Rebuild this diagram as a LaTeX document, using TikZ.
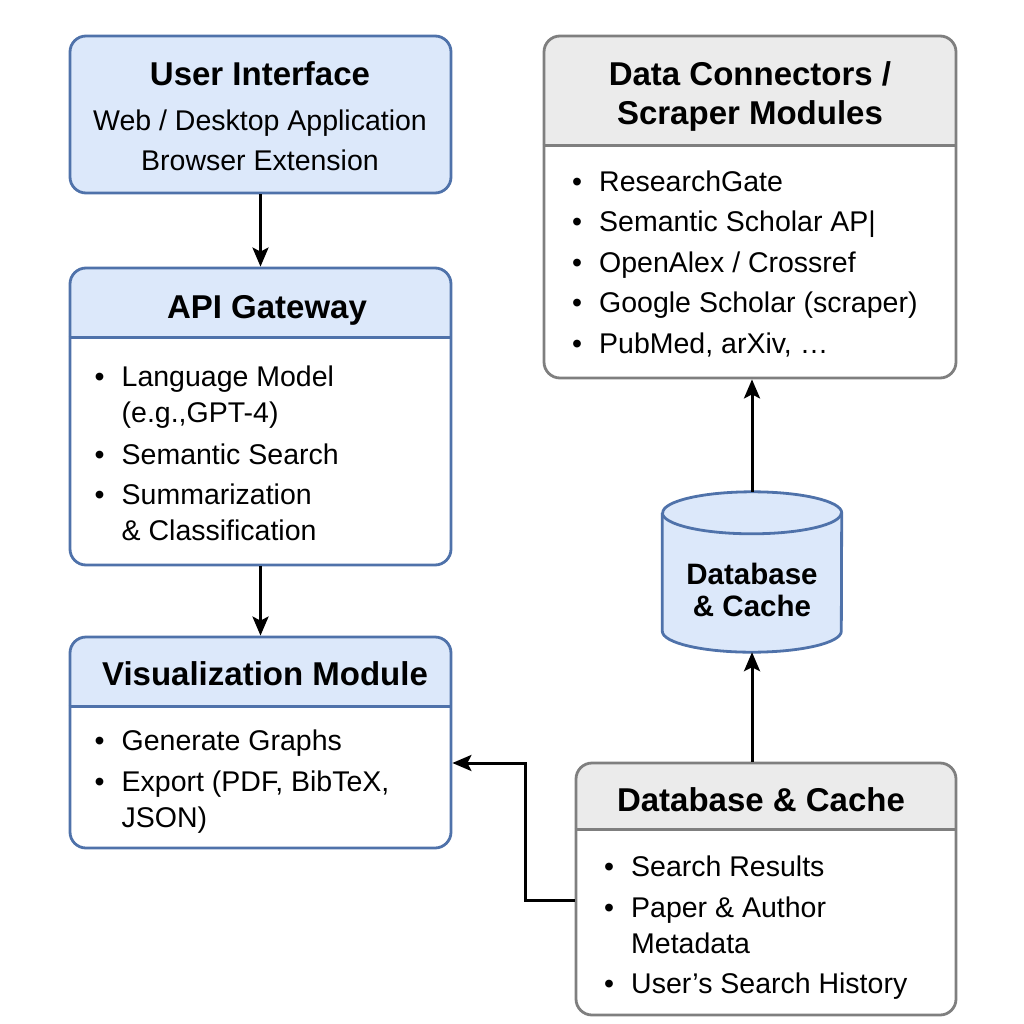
\documentclass[tikz,border=0pt]{standalone}
\usepackage{fontspec}
\setmainfont{Liberation Sans}
\usepackage{tikz}
\usetikzlibrary{arrows.meta,backgrounds,calc,positioning}
\definecolor{hblue}{HTML}{DCE8FA}
\definecolor{bblue}{HTML}{4F72AA}
\definecolor{headgray}{HTML}{EBEBEB}
\definecolor{bgray}{HTML}{7F7F7F}
\tikzset{%
	bluebox/.style = {draw=bblue, line width=2.8pt, rounded corners=16pt, inner sep=0pt},
	graybox/.style = {draw=bgray, line width=2.8pt, rounded corners=16pt, inner sep=0pt},
	title/.style   = {font=\bfseries\fontsize{33}{39}\selectfont, inner sep=0pt, align=center, anchor=base},
	body/.style    = {font=\fontsize{28.5}{36}\selectfont, inner sep=0pt, align=left, anchor=base west},
	arrow/.style   = {line width=3pt, -{Stealth[length=19pt,width=16pt,inset=4pt]}},
}
\newcommand{\bul}{\makebox[27pt][l]{\textbullet}}
\newcommand{\ind}{\hspace*{27pt}}

\begin{document}
\begin{tikzpicture}[x=1pt,y=1pt]
	\useasboundingbox (0,0) rectangle (1024,-1024);
	
	% header bands
	\begin{scope}
		\clip[rounded corners=16pt] (544,-36) rectangle (956,-378);
		\fill[headgray] (544,-36) rectangle (956,-147);
	\end{scope}
	\begin{scope}
		\clip[rounded corners=16pt] (576,-763) rectangle (956,-1015);
		\fill[headgray] (576,-763) rectangle (956,-831);
	\end{scope}
	\begin{scope}
		\clip[rounded corners=16pt] (70,-268) rectangle (451,-565);
		\fill[hblue] (70,-268) rectangle (451,-339);
	\end{scope}
	\begin{scope}
		\clip[rounded corners=16pt] (70,-637) rectangle (451,-848);
		\fill[hblue] (70,-637) rectangle (451,-708);
	\end{scope}
	
	% boxes
	\node[bluebox, fill=hblue, minimum width=381pt, minimum height=157pt] (ui) at (260.5,-114.5) {};
	\node[bluebox, minimum width=381pt, minimum height=297pt] (api) at (260.5,-416.5) {};
	\node[bluebox, minimum width=381pt, minimum height=211pt] (vis) at (260.5,-742.5) {};
	\node[graybox, minimum width=412pt, minimum height=342pt] (conn) at (750,-207) {};
	\node[graybox, minimum width=380pt, minimum height=252pt] (db) at (766,-889) {};
	\draw[bblue, line width=2.4pt] ([yshift=-71pt]api.north west) -- ([yshift=-71pt]api.north east);
	\draw[bblue, line width=2.4pt] ([yshift=-71pt]vis.north west) -- ([yshift=-71pt]vis.north east);
	\draw[bgray, line width=2.4pt] ([yshift=-111pt]conn.north west) -- ([yshift=-111pt]conn.north east);
	\draw[bgray, line width=2.4pt] ([yshift=-68pt]db.north west) -- ([yshift=-68pt]db.north east);
	
	% cylinder
	\node[minimum width=179pt, minimum height=160pt, inner sep=0pt] (cyl) at (752,-572) {};
	\filldraw[fill=hblue, draw=bblue, line width=2.8pt] ($(cyl.north west)+(0,-21)$) -- ($(cyl.south west)+(0,21)$)
		arc[start angle=180, end angle=360, x radius=89.5pt, y radius=21pt] -- ($(cyl.north east)+(0,-21)$)
		arc[start angle=0, end angle=180, x radius=89.5pt, y radius=21pt];
	\draw[bblue, line width=2.8pt] ($(cyl.north west)+(0,-21)$) arc[start angle=180, end angle=360, x radius=89.5pt, y radius=21pt];
	
	% texts (base = last line)
	\node[title] (uititle) at (260,-86) {User Interface};
	\node[body, anchor=base, align=center] (uitext) at (260,-171) {Web / Desktop Application\\[4pt]Browser Extension};
	\node[title] (apititle) at (267,-318) {API Gateway};
	\node[body] (apitext) at (94.5,-540) {\bul Language Model\\ \ind (e.g.,GPT-4)\\[6pt] \bul Semantic Search\\[4pt] \bul Summarization\\ \ind \& Classification};
	\node[title] (vistitle) at (265,-685) {Visualization Module};
	\node[body] (vistext) at (94.5,-827) {\bul Generate Graphs\\[5pt] \bul Export (PDF, BibTeX,\\ \ind JSON)};
	\node[title] (conntitle) at (750,-125) {Data Connectors /\\Scraper Modules};
	\node[body] (conntext) at (572,-353) {\bul ResearchGate\\[4.5pt] \bul Semantic Scholar AP|\\[4.5pt] \bul OpenAlex / Crossref\\[4.5pt] \bul Google Scholar (scraper)\\[4.5pt] \bul PubMed, arXiv, \dots};
	\node[title] (dbtitle) at (761,-811) {Database \& Cache};
	\node[body] (dbtext) at (604,-993) {\bul Search Results\\[5pt] \bul Paper \& Author\\ \ind Metadata\\[4pt] \bul User’s Search History};
	\node[title, font=\bfseries\fontsize{29.5}{32}\selectfont] (cyltext) at (752,-616) {Database\\\& Cache};
	
	% connectors
	\draw[arrow] (ui) -- (api);
	\draw[arrow] (api) -- (vis);
	\draw[arrow] (db.north -| cyl.south) -- (cyl.south);
	\draw[arrow] (cyl.north) -- (conn.south -| cyl.north);
	\draw[arrow] ([yshift=-11pt]db.west) -- ++(-49,0) |- ([yshift=-20.5pt]vis.east);
	
\end{tikzpicture}
\end{document}
